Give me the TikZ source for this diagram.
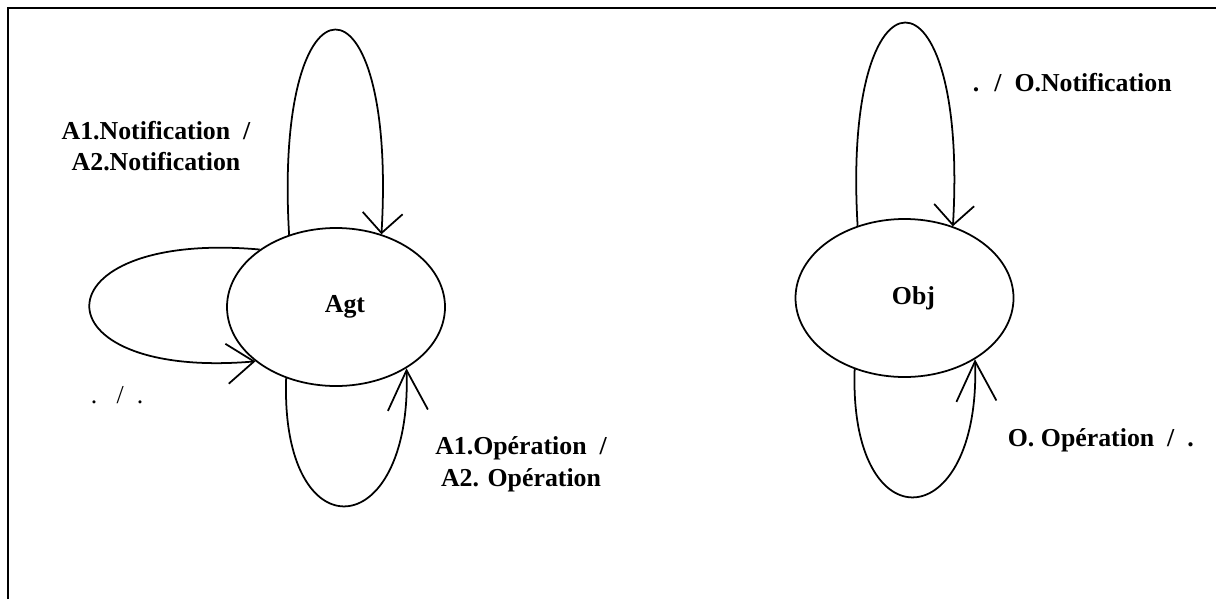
\documentclass[tikz,border=0pt]{standalone}
\usepackage{fontspec}
\setmainfont{Liberation Serif}
\usetikzlibrary{arrows.meta,shapes.geometric}

\begin{document}
\begin{tikzpicture}[x=0.2mm, y=0.2mm, line width=1pt,
		state/.style={draw, ellipse, minimum width=43.6mm, minimum height=31.6mm, inner sep=0pt, font=\bfseries\fontsize{14.7}{18}\selectfont, execute at begin node={\hspace*{3.6mm}}},
		lbl/.style={inner sep=0pt, font=\bfseries\fontsize{14.7}{18}\selectfont, align=center},
		barb/.style={-{Straight Barb[length=4mm, width=8mm]}},
		midbarb/.style={-{Straight Barb[length=5.4mm, width=8mm]}},
		longbarb/.style={-{Straight Barb[length=8mm, width=8mm]}}]
		\useasboundingbox (0,0) rectangle (1216,599);
		\draw (8,0)--(8,591)--(1216,591);
		\node [state] (agt) at (336,292) {Agt};
		\node [state] (obj) at (904.5,301) {Obj};
		% boucles de Agt
		\draw [barb] (agt.123) .. controls +(-16,273) and +(16,273) .. (agt.58);
		\draw [midbarb] (agt.143) .. controls +(-225,20) and +(-223,-19) .. (agt.214);
		\draw [longbarb] (agt.235) .. controls +(-6,-177) and +(6,-177) .. (agt.319);
		% boucles de Obj
		\draw [barb] (obj.123) .. controls +(-16,271) and +(16,271) .. (obj.56);
		\draw [longbarb] (obj.235) .. controls +(-6,-177) and +(6,-177) .. (obj.319);
		\node [lbl] (notif) at (156,453) {A1.Notification~ /\\A2.Notification};
		\node [lbl, anchor=base west, font=\fontsize{14.7}{18}\selectfont] (vide) at (90,196) {.\ \ \ /\ \ .};
		\node [lbl] (oper) at (521,135) {A1.Opération~ /\\A2. Opération};
		\node [lbl, anchor=west] (onotif) at (972,516) {.~ /~ O.Notification};
		\node [lbl, anchor=west] (ooper) at (1007,159) {O. Opération~ /~ .};
	\end{tikzpicture}
\end{document}
